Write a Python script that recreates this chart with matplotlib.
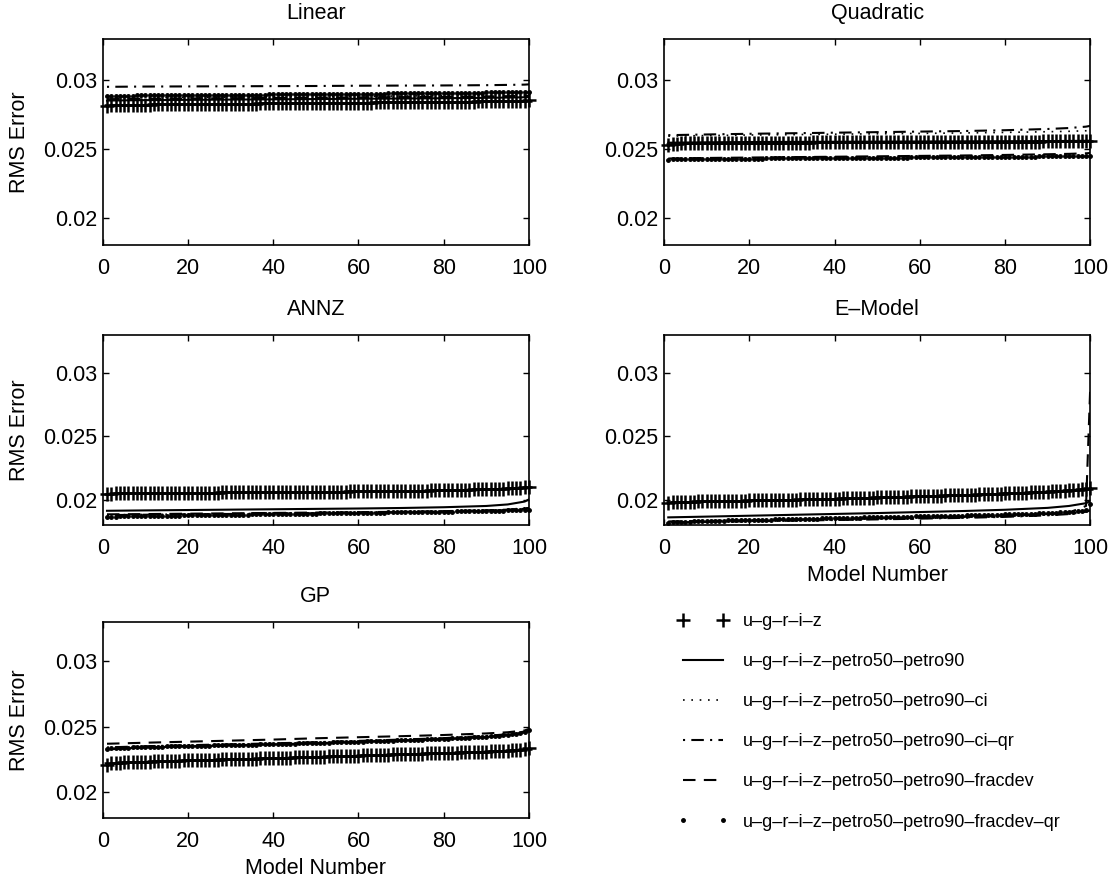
#!/usr/bin/env python3
import numpy as np
import matplotlib
matplotlib.use('Agg')
import matplotlib.pyplot as plt

plt.rcParams['font.family'] = ['Liberation Sans', 'DejaVu Sans']

# model number for the marker series (+ and dots), one value per model
MODEL_NUM = list(range(1, 101))
# model numbers where the line series are sampled
LINE_X = [1, 10, 20, 30, 40, 50, 60, 70, 80, 90, 95, 99, 100]

LABELS = ['u–g–r–i–z',
          'u–g–r–i–z–petro50–petro90',
          'u–g–r–i–z–petro50–petro90–ci',
          'u–g–r–i–z–petro50–petro90–ci–qr',
          'u–g–r–i–z–petro50–petro90–fracdev',
          'u–g–r–i–z–petro50–petro90–fracdev–qr']

TITLES = ['Linear', 'Quadratic', 'ANNZ', 'E–Model', 'GP']

# all RMS errors below are x 1e5

# ---- Linear
LIN_UGRIZ = [2812, 2816, 2818, 2819, 2820, 2821, 2821, 2822, 2822, 2823,
             2823, 2824, 2824, 2824, 2825, 2825, 2825, 2826, 2826, 2826,
             2827, 2827, 2827, 2827, 2828, 2828, 2828, 2828, 2829, 2829,
             2829, 2829, 2830, 2830, 2830, 2830, 2831, 2831, 2831, 2831,
             2832, 2832, 2832, 2832, 2833, 2833, 2833, 2833, 2834, 2834,
             2834, 2834, 2835, 2835, 2835, 2835, 2836, 2836, 2836, 2836,
             2837, 2837, 2837, 2838, 2838, 2838, 2838, 2839, 2839, 2839,
             2840, 2840, 2840, 2841, 2841, 2841, 2842, 2842, 2842, 2843,
             2843, 2843, 2844, 2844, 2845, 2845, 2845, 2846, 2846, 2847,
             2847, 2848, 2848, 2849, 2849, 2850, 2850, 2851, 2852, 2854]
LIN_PETRO = [2852, 2855, 2857, 2859, 2861, 2863, 2865, 2867, 2869, 2872, 2874, 2876, 2877]
LIN_CI = [2870, 2873, 2875, 2877, 2879, 2881, 2883, 2885, 2887, 2890, 2892, 2894, 2895]
LIN_CIQR = [2952, 2954, 2955, 2956, 2957, 2958, 2960, 2961, 2962, 2964, 2966, 2968, 2970]
LIN_FRAC = [2862, 2865, 2867, 2869, 2871, 2873, 2875, 2877, 2879, 2882, 2884, 2886, 2887]
LIN_FRACQR = [2884, 2886, 2887, 2887, 2888, 2888, 2888, 2889, 2889, 2889,
              2890, 2890, 2890, 2890, 2891, 2891, 2891, 2891, 2892, 2892,
              2892, 2892, 2893, 2893, 2893, 2893, 2894, 2894, 2894, 2894,
              2895, 2895, 2895, 2895, 2896, 2896, 2896, 2896, 2897, 2897,
              2897, 2897, 2898, 2898, 2898, 2898, 2899, 2899, 2899, 2899,
              2900, 2900, 2900, 2900, 2901, 2901, 2901, 2901, 2902, 2902,
              2902, 2902, 2903, 2903, 2903, 2903, 2904, 2904, 2904, 2904,
              2905, 2905, 2905, 2906, 2906, 2906, 2906, 2907, 2907, 2907,
              2908, 2908, 2908, 2909, 2909, 2909, 2910, 2910, 2910, 2911,
              2911, 2911, 2912, 2912, 2913, 2913, 2914, 2914, 2915, 2917]

# ---- Quadratic
QUAD_UGRIZ = [2532, 2537, 2539, 2540, 2540, 2541, 2541, 2541, 2542, 2542,
              2542, 2542, 2543, 2543, 2543, 2543, 2543, 2544, 2544, 2544,
              2544, 2544, 2545, 2545, 2545, 2545, 2545, 2545, 2546, 2546,
              2546, 2546, 2546, 2546, 2547, 2547, 2547, 2547, 2547, 2547,
              2547, 2548, 2548, 2548, 2548, 2548, 2548, 2548, 2549, 2549,
              2549, 2549, 2549, 2549, 2549, 2549, 2550, 2550, 2550, 2550,
              2550, 2550, 2550, 2550, 2551, 2551, 2551, 2551, 2551, 2551,
              2551, 2551, 2552, 2552, 2552, 2552, 2552, 2552, 2552, 2552,
              2553, 2553, 2553, 2553, 2553, 2553, 2553, 2553, 2554, 2554,
              2554, 2554, 2554, 2555, 2555, 2555, 2555, 2556, 2556, 2557]
QUAD_PETRO = [2545, 2548, 2550, 2551, 2552, 2553, 2554, 2555, 2556, 2557, 2558, 2559, 2560]
QUAD_CI = [2593, 2597, 2601, 2604, 2607, 2610, 2613, 2616, 2620, 2625, 2628, 2632, 2634]
QUAD_CIQR = [2600, 2605, 2610, 2614, 2618, 2622, 2626, 2630, 2636, 2645, 2652, 2662, 2668]
QUAD_FRAC = [2430, 2434, 2437, 2440, 2443, 2446, 2449, 2452, 2456, 2461, 2464, 2468, 2470]
QUAD_FRACQR = [2421, 2423, 2424, 2425, 2425, 2426, 2426, 2426, 2427, 2427,
               2427, 2428, 2428, 2428, 2428, 2429, 2429, 2429, 2429, 2430,
               2430, 2430, 2430, 2431, 2431, 2431, 2431, 2432, 2432, 2432,
               2432, 2432, 2433, 2433, 2433, 2433, 2433, 2434, 2434, 2434,
               2434, 2434, 2435, 2435, 2435, 2435, 2435, 2436, 2436, 2436,
               2436, 2436, 2437, 2437, 2437, 2437, 2437, 2438, 2438, 2438,
               2438, 2438, 2439, 2439, 2439, 2439, 2439, 2440, 2440, 2440,
               2440, 2440, 2441, 2441, 2441, 2441, 2442, 2442, 2442, 2442,
               2443, 2443, 2443, 2443, 2444, 2444, 2444, 2445, 2445, 2445,
               2446, 2446, 2446, 2447, 2447, 2448, 2448, 2449, 2449, 2450]

# ---- ANNZ
ANNZ_UGRIZ = [2044, 2048, 2049, 2050, 2050, 2051, 2051, 2051, 2052, 2052,
              2052, 2053, 2053, 2053, 2053, 2054, 2054, 2054, 2054, 2055,
              2055, 2055, 2055, 2056, 2056, 2056, 2056, 2057, 2057, 2057,
              2057, 2057, 2058, 2058, 2058, 2058, 2059, 2059, 2059, 2059,
              2060, 2060, 2060, 2060, 2061, 2061, 2061, 2061, 2062, 2062,
              2062, 2063, 2063, 2063, 2064, 2064, 2064, 2065, 2065, 2065,
              2066, 2066, 2066, 2067, 2067, 2067, 2068, 2068, 2069, 2069,
              2070, 2070, 2071, 2071, 2072, 2072, 2073, 2074, 2074, 2075,
              2076, 2076, 2077, 2078, 2078, 2079, 2080, 2081, 2082, 2083,
              2084, 2085, 2086, 2087, 2089, 2090, 2092, 2094, 2097, 2102]
ANNZ_PETRO = [1912, 1915, 1918, 1921, 1924, 1927, 1930, 1934, 1940, 1950, 1962, 1985, 2002]
ANNZ_CI = [1880, 1883, 1886, 1889, 1892, 1895, 1898, 1902, 1907, 1915, 1922, 1935, 1942]
ANNZ_CIQR = [1878, 1881, 1884, 1887, 1890, 1893, 1896, 1900, 1905, 1912, 1918, 1928, 1934]
ANNZ_FRAC = [1884, 1886, 1889, 1892, 1895, 1898, 1901, 1904, 1909, 1916, 1921, 1930, 1935]
ANNZ_FRACQR = [1860, 1864, 1866, 1867, 1868, 1868, 1869, 1869, 1870, 1870,
               1871, 1871, 1872, 1872, 1873, 1873, 1874, 1874, 1875, 1875,
               1876, 1876, 1877, 1877, 1878, 1878, 1879, 1879, 1880, 1880,
               1881, 1881, 1882, 1882, 1883, 1883, 1884, 1884, 1885, 1885,
               1886, 1886, 1887, 1887, 1888, 1888, 1889, 1889, 1890, 1890,
               1891, 1891, 1892, 1892, 1893, 1893, 1894, 1894, 1895, 1895,
               1896, 1896, 1897, 1897, 1898, 1898, 1899, 1899, 1900, 1900,
               1901, 1901, 1902, 1902, 1903, 1903, 1904, 1904, 1905, 1905,
               1906, 1906, 1907, 1907, 1908, 1908, 1909, 1909, 1910, 1910,
               1911, 1912, 1913, 1914, 1915, 1916, 1917, 1918, 1920, 1922]

# ---- E-Model
EMOD_UGRIZ = [1975, 1980, 1982, 1983, 1984, 1985, 1985, 1986, 1987, 1987,
              1988, 1989, 1989, 1990, 1991, 1991, 1992, 1993, 1993, 1994,
              1995, 1995, 1996, 1997, 1997, 1998, 1999, 1999, 2000, 2001,
              2001, 2002, 2003, 2003, 2004, 2005, 2005, 2006, 2007, 2007,
              2008, 2009, 2010, 2011, 2012, 2013, 2014, 2015, 2016, 2017,
              2018, 2019, 2020, 2021, 2022, 2023, 2024, 2025, 2026, 2027,
              2028, 2029, 2030, 2031, 2032, 2033, 2034, 2035, 2036, 2037,
              2038, 2039, 2040, 2041, 2042, 2043, 2044, 2046, 2047, 2049,
              2050, 2051, 2053, 2054, 2056, 2057, 2059, 2060, 2062, 2064,
              2065, 2067, 2069, 2071, 2073, 2075, 2078, 2081, 2086, 2094]
EMOD_PETRO = [1860, 1866, 1873, 1880, 1887, 1894, 1902, 1910, 1920, 1935, 1950, 1972, 1990]
EMOD_CI = [1822, 1826, 1831, 1836, 1841, 1846, 1852, 1858, 1866, 1880, 1892, 1915, 1925]
EMOD_CIQR = [1820, 1824, 1829, 1834, 1839, 1844, 1850, 1856, 1864, 1876, 1886, 1905, 1915]
EMOD_FRAC = [1828, 1832, 1837, 1842, 1847, 1852, 1858, 1864, 1872, 1886, 1898, 1950, 2900]
EMOD_FRACQR = [1818, 1822, 1824, 1825, 1826, 1827, 1828, 1829, 1830, 1831,
               1832, 1833, 1834, 1835, 1836, 1836, 1837, 1838, 1839, 1840,
               1840, 1841, 1842, 1843, 1843, 1844, 1845, 1846, 1846, 1847,
               1848, 1849, 1849, 1850, 1851, 1851, 1852, 1853, 1853, 1854,
               1855, 1855, 1856, 1857, 1857, 1858, 1859, 1859, 1860, 1861,
               1861, 1862, 1863, 1863, 1864, 1865, 1865, 1866, 1867, 1867,
               1868, 1869, 1869, 1870, 1871, 1871, 1872, 1873, 1874, 1874,
               1875, 1876, 1877, 1877, 1878, 1879, 1880, 1881, 1882, 1883,
               1884, 1885, 1886, 1887, 1888, 1889, 1890, 1891, 1892, 1894,
               1895, 1897, 1899, 1901, 1903, 1906, 1909, 1913, 1920, 1967]

# ---- GP
GP_UGRIZ = [2205, 2218, 2222, 2224, 2226, 2227, 2228, 2229, 2230, 2231,
            2232, 2233, 2234, 2235, 2236, 2237, 2238, 2239, 2240, 2241,
            2242, 2243, 2244, 2245, 2246, 2246, 2247, 2248, 2249, 2250,
            2251, 2252, 2253, 2253, 2254, 2255, 2256, 2257, 2258, 2259,
            2260, 2260, 2261, 2262, 2263, 2264, 2265, 2266, 2267, 2268,
            2269, 2270, 2271, 2272, 2273, 2274, 2275, 2276, 2277, 2278,
            2279, 2280, 2281, 2282, 2283, 2284, 2285, 2286, 2287, 2288,
            2289, 2290, 2291, 2292, 2293, 2294, 2295, 2296, 2297, 2298,
            2299, 2300, 2301, 2302, 2303, 2304, 2305, 2306, 2307, 2308,
            2309, 2310, 2312, 2313, 2315, 2317, 2319, 2322, 2326, 2334]
GP_PETRO = [2325, 2340, 2348, 2356, 2363, 2372, 2382, 2392, 2403, 2420, 2433, 2455, 2465]
GP_CI = [2336, 2345, 2353, 2360, 2367, 2376, 2386, 2396, 2407, 2424, 2437, 2460, 2472]
GP_CIQR = [2340, 2349, 2357, 2364, 2371, 2380, 2390, 2400, 2411, 2428, 2441, 2462, 2474]
GP_FRAC = [2368, 2376, 2384, 2392, 2400, 2410, 2418, 2426, 2435, 2447, 2456, 2470, 2482]
GP_FRACQR = [2330, 2334, 2336, 2337, 2338, 2339, 2340, 2341, 2342, 2343,
             2344, 2345, 2346, 2346, 2347, 2348, 2349, 2349, 2350, 2351,
             2352, 2352, 2353, 2354, 2354, 2355, 2356, 2356, 2357, 2358,
             2358, 2359, 2360, 2361, 2361, 2362, 2363, 2364, 2364, 2365,
             2366, 2367, 2368, 2368, 2369, 2370, 2371, 2372, 2373, 2374,
             2375, 2376, 2377, 2378, 2379, 2380, 2381, 2382, 2383, 2384,
             2385, 2386, 2387, 2388, 2389, 2390, 2391, 2392, 2393, 2394,
             2395, 2396, 2397, 2399, 2400, 2401, 2402, 2404, 2405, 2406,
             2408, 2409, 2411, 2412, 2414, 2415, 2417, 2419, 2421, 2423,
             2425, 2427, 2430, 2433, 2436, 2440, 2445, 2451, 2460, 2474]

PANELS = [
    (LIN_UGRIZ, LIN_PETRO, LIN_CI, LIN_CIQR, LIN_FRAC, LIN_FRACQR),
    (QUAD_UGRIZ, QUAD_PETRO, QUAD_CI, QUAD_CIQR, QUAD_FRAC, QUAD_FRACQR),
    (ANNZ_UGRIZ, ANNZ_PETRO, ANNZ_CI, ANNZ_CIQR, ANNZ_FRAC, ANNZ_FRACQR),
    (EMOD_UGRIZ, EMOD_PETRO, EMOD_CI, EMOD_CIQR, EMOD_FRAC, EMOD_FRACQR),
    (GP_UGRIZ, GP_PETRO, GP_CI, GP_CIQR, GP_FRAC, GP_FRACQR),
]

# axes boxes in figure fraction [left, bottom, width, height]
POS = [[0.0923, 0.7206, 0.383, 0.2349],
       [0.5966, 0.7206, 0.383, 0.2349],
       [0.0923, 0.4014, 0.383, 0.2167],
       [0.5966, 0.4014, 0.383, 0.2167],
       [0.0923, 0.0673, 0.383, 0.2235]]

FS = 15.5


def panel(fig, k):
    ax = fig.add_axes(POS[k])
    ugriz, petro, ci, ciqr, frac, fracqr = PANELS[k]
    sc = 1e-5
    h = []
    h += ax.plot(MODEL_NUM, np.array(ugriz) * sc, ls='none', marker='+', ms=10, mew=1.8,
                 color='k', clip_on=False, label=LABELS[0])
    h += ax.plot(LINE_X, np.array(petro) * sc, '-', lw=1.5, color='k', label=LABELS[1])
    h += ax.plot(LINE_X, np.array(ci) * sc, ls=(0, (1, 4)), lw=1.2, color='k', label=LABELS[2])
    h += ax.plot(LINE_X, np.array(ciqr) * sc, ls=(0, (1, 3, 6, 3)), lw=1.5, color='k', label=LABELS[3])
    h += ax.plot(LINE_X, np.array(frac) * sc, ls=(0, (6, 4)), lw=1.5, color='k', label=LABELS[4])
    h += ax.plot(MODEL_NUM, np.array(fracqr) * sc, ls='none', marker='.', ms=5,
                 color='k', clip_on=False, label=LABELS[5])

    ax.set_xlim(0, 100)
    ax.set_ylim(0.018, 0.033)
    ax.set_xticks([0, 20, 40, 60, 80, 100])
    ax.set_yticks([0.02, 0.025, 0.03])
    ax.set_yticklabels(['0.02', '0.025', '0.03'])
    ax.tick_params(direction='in', top=True, right=True, length=4, width=1,
                   labelsize=FS)
    ax.tick_params(axis='x', pad=9.5)
    ax.tick_params(axis='y', pad=4)
    for s in ax.spines.values():
        s.set_linewidth(1.2)
    ax.set_title(TITLES[k], fontsize=FS, pad=14.5)
    if k % 2 == 0:
        ax.set_ylabel('RMS Error', fontsize=FS)
        ax.yaxis.set_label_coords(-0.17, 0.5)
    if k >= 3:
        ax.set_xlabel('Model Number', fontsize=FS, labelpad=4)
    return h


def main():
    fig = plt.figure(figsize=(11.13, 8.77), dpi=100)
    handles = panel(fig, 0)
    for k in range(1, 5):
        panel(fig, k)

    fig.legend(handles, LABELS, loc='upper left', bbox_to_anchor=(0.609, 0.301),
               frameon=False, numpoints=2, fontsize=13, labelspacing=1.28,
               handlelength=2.8, handletextpad=0.8, borderpad=0, borderaxespad=0)

    fig.savefig('out.png', dpi=100)


if __name__ == '__main__':
    main()
